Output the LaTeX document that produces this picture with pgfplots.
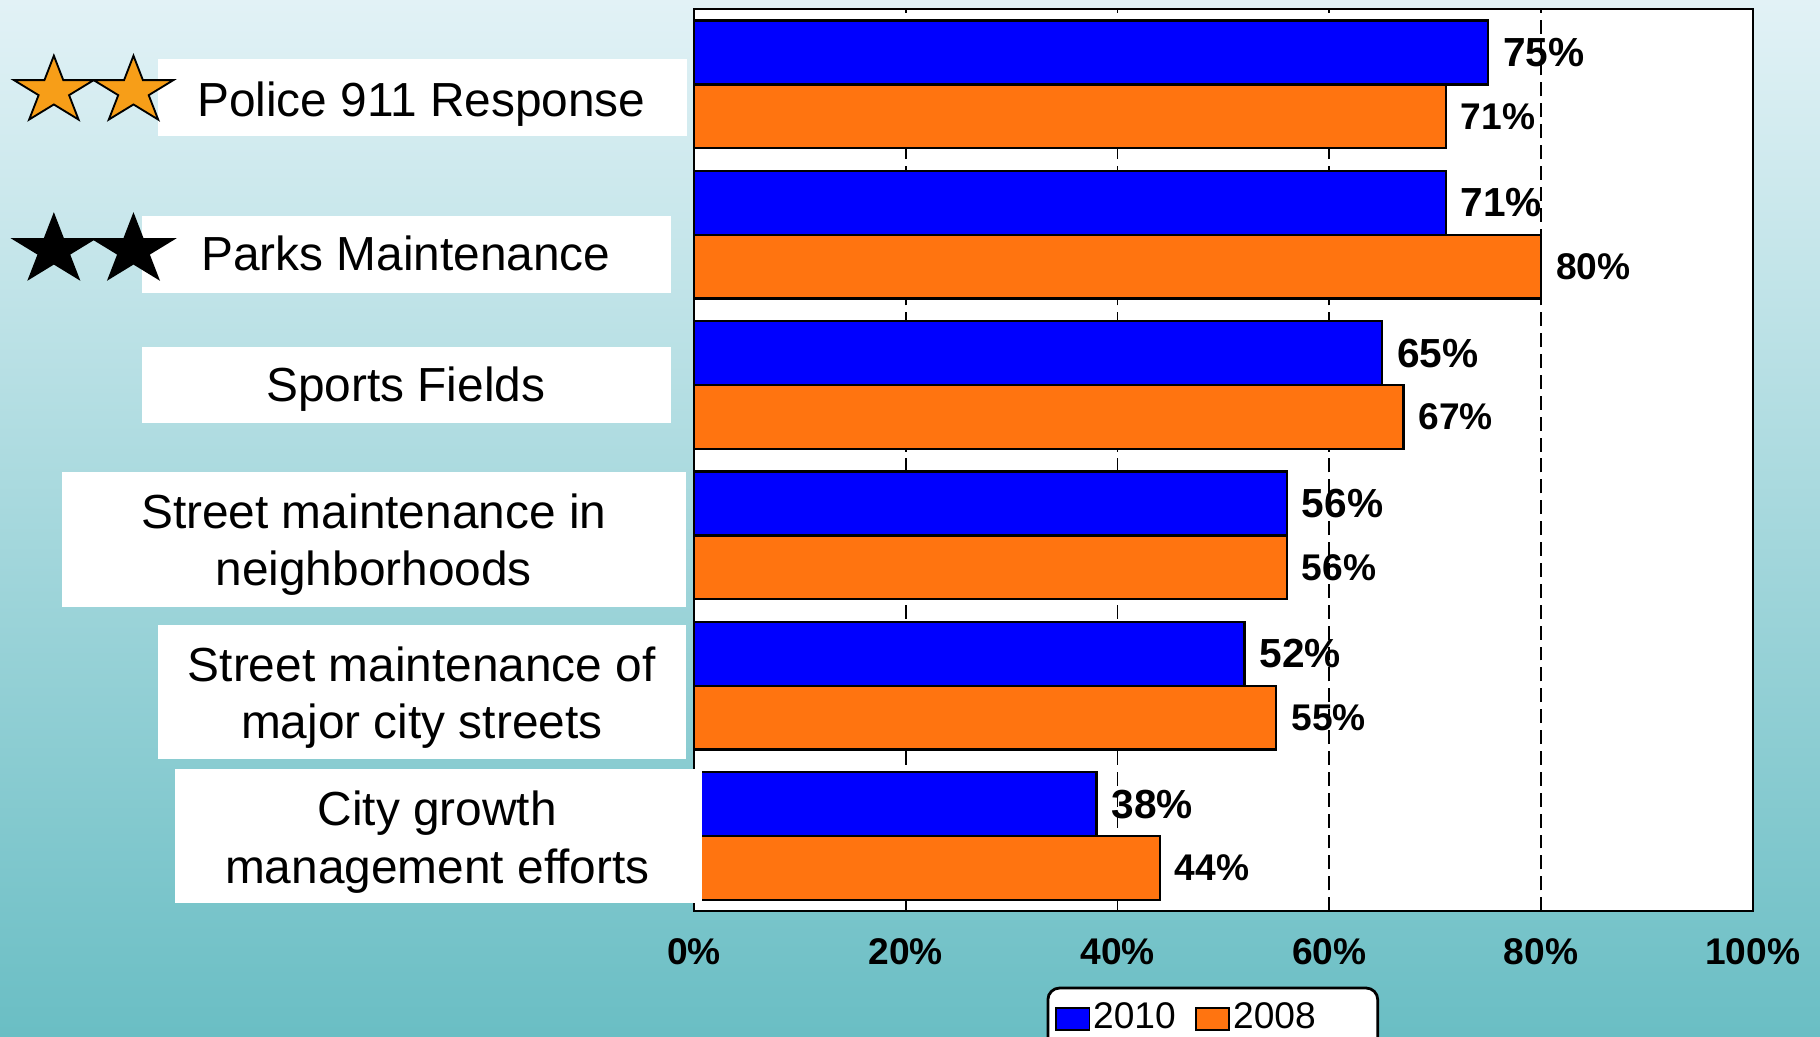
\documentclass[border=0pt]{standalone}
\usepackage{fontspec}
\setmainfont{Liberation Sans}
\usepackage{pgfplots}
\usepackage{pgfplotstable}
\pgfplotsset{compat=1.18}
\definecolor{bblue}{RGB}{0,0,255}
\definecolor{borange}{RGB}{255,116,16}
\definecolor{starorange}{RGB}{247,158,24}
\definecolor{bgtop}{RGB}{226,242,246}
\definecolor{bgmid}{RGB}{168,217,223}
\definecolor{bgbot}{RGB}{106,190,196}

\pgfplotstableread{
y v2010 v2008
6 75 71
5 71 80
4 65 67
3 56 56
2 52 55
1 38 44
}\data

\newcommand{\starshape}[3]{%
  \begin{scope}[shift={(#1,#2)}, xscale=1.19]
    \draw[fill=#3, line width=0.4pt, line join=miter]
      (90:7.6pt) -- (126:2.9pt) -- (162:7.6pt) -- (198:2.9pt) -- (234:7.6pt) --
      (270:2.9pt) -- (306:7.6pt) -- (342:2.9pt) -- (18:7.6pt) -- (54:2.9pt) -- cycle;
  \end{scope}}

\begin{document}
\begin{tikzpicture}
\clip (0,0) rectangle (392pt,223.25pt);
\shade[top color=bgtop, middle color=bgmid, bottom color=bgbot] (0,0) rectangle (392pt,223.25pt);
\begin{axis}[
  at={(149.5pt,27pt)}, anchor=south west,
  width=228pt, height=194.25pt, scale only axis,
  xmin=0, xmax=100, ymin=0.5, ymax=6.5,
  axis background/.style={fill=white},
  axis line style={black, line width=0.5pt},
  xbar, bar width=13.75pt,
  xtick={0,20,...,100},
  ytick=\empty,
  major tick length=0pt,
  xmajorgrids,
  major grid style={black, line width=0.4pt, dash pattern=on 3pt off 1.5pt},
  /pgf/number format/assume math mode=true,
  xticklabel={\pgfmathprintnumber{\tick}\%},
  xticklabel style={font=\bfseries\fontsize{8}{9.6}\selectfont, inner sep=0pt, yshift=-5.75pt},
  nodes near coords={\pgfmathprintnumber{\pgfplotspointmeta}\%},
  legend style={at={(0.3329,-0.0837)}, anchor=north west, draw=black, line width=0.6pt,
    rounded corners=2.5pt, fill=white, inner xsep=1.5pt, inner ysep=2.5pt,
    font=\fontsize{8}{9.6}\selectfont, legend columns=2,
    nodes={inner sep=0.6pt},
    /tikz/every even column/.append style={column sep=3.5pt}},
  legend image code/.code={\draw[#1, sharp corners, line width=0.4pt] (0pt,-2.375pt) rectangle (7.25pt,2.375pt);},
]
\addplot[fill=bblue, draw=black, line width=0.5pt, bar shift=6.875pt, point meta=x,
  every node near coord/.append style={font=\bfseries\fontsize{8.75}{10}\selectfont, anchor=west, inner sep=0pt, xshift=3pt}]
  table[x=v2010, y=y]{\data};
\addlegendentry{2010}
\addplot[fill=borange, draw=black, line width=0.5pt, bar shift=-6.875pt, point meta=x,
  every node near coord/.append style={font=\bfseries\fontsize{8}{9.6}\selectfont, anchor=west, inner sep=0pt, xshift=3pt}]
  table[x=v2008, y=y]{\data};
\addlegendentry{2008\rule{11.25pt}{0pt}}
\end{axis}

% label boxes
\fill[white] (34pt,194pt) rectangle (148pt,210.5pt);
\fill[white] (30.5pt,160.25pt) rectangle (144.5pt,176.75pt);
\fill[white] (30.5pt,132.25pt) rectangle (144.5pt,148.5pt);
\fill[white] (13.35pt,92.6pt) rectangle (147.85pt,121.5pt);
\fill[white] (34pt,59.7pt) rectangle (147.85pt,88.6pt);
\fill[white] (37.6pt,28.7pt) rectangle (151.3pt,57.55pt);

\begin{scope}[every node/.style={anchor=base, inner sep=0pt, font=\fontsize{10.3}{12.3}\selectfont}]
\node at (90.75pt,198.25pt) {Police 911 Response};
\node at (87.4pt,165pt) {Parks Maintenance};
\node at (87.4pt,136.75pt) {Sports Fields};
\node at (80.5pt,109.45pt) {Street maintenance in};
\node at (80.5pt,97.1pt) {neighborhoods};
\node at (90.85pt,76.4pt) {Street maintenance of};
\node at (90.85pt,64.25pt) {major city streets};
\node at (94.2pt,45.35pt) {City growth};
\node at (94.2pt,33pt) {management efforts};
\end{scope}

% stars
\starshape{11.6pt}{203.65pt}{starorange}
\starshape{28.75pt}{203.65pt}{starorange}
\starshape{11.6pt}{169.4pt}{black}
\starshape{28.75pt}{169.4pt}{black}
\end{tikzpicture}
\end{document}
